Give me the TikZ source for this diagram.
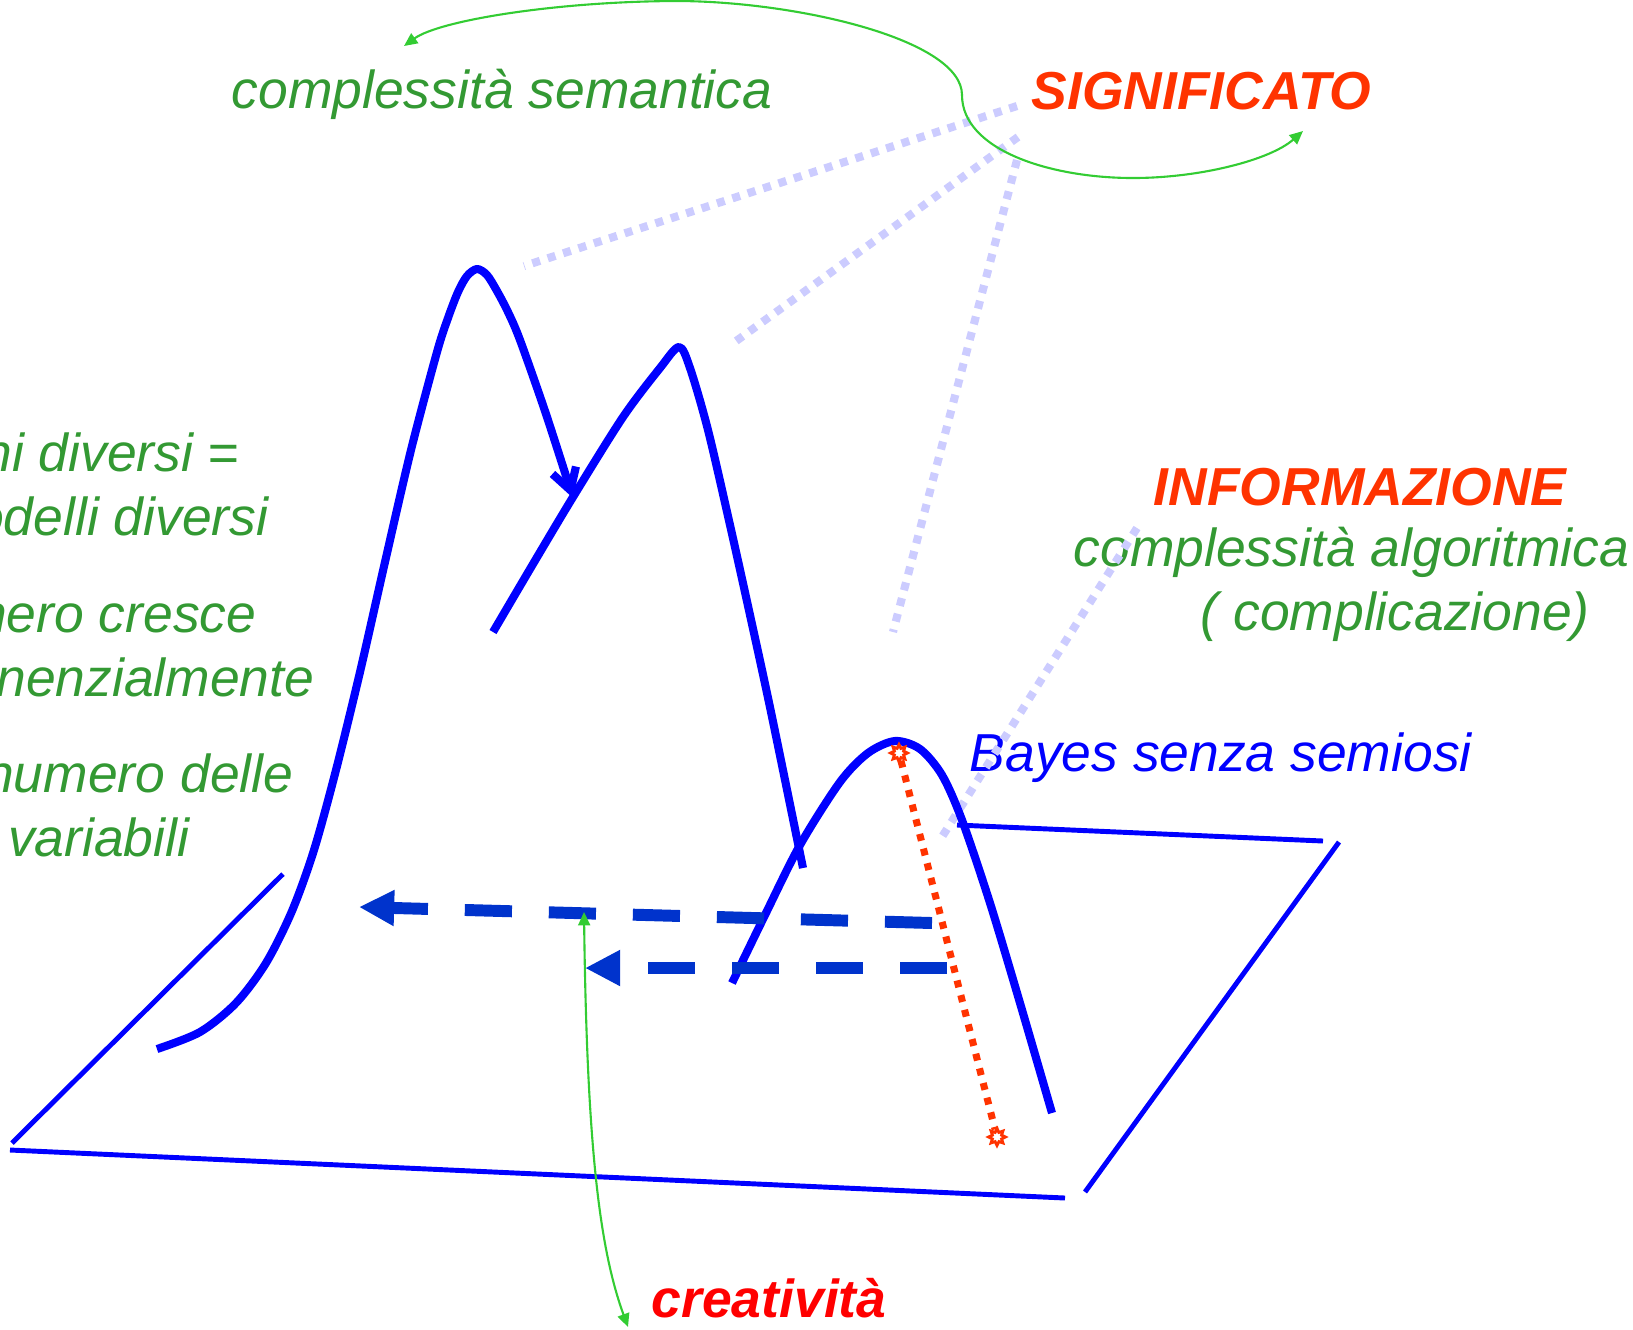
\documentclass[tikz,border=0pt]{standalone}
\usepackage{fontspec}
\setmainfont{Liberation Sans}
\usetikzlibrary{positioning,arrows.meta,shapes.geometric}
\definecolor{curveblue}{HTML}{0000FF}
\definecolor{dashblue}{HTML}{0033CC}
\definecolor{lavender}{HTML}{CCCCFF}
\definecolor{redorange}{HTML}{FF3300}
\definecolor{textgreen}{HTML}{339933}
\definecolor{arcgreen}{HTML}{33CC33}
\tikzset{
    >=Stealth[round],
    txt/.style = {inner sep=0pt, font=\fontsize{15.2}{18}\selectfont\itshape},
    greentxt/.style = {txt, text=textgreen},
    redtxt/.style = {inner sep=0pt, text=redorange, font=\fontsize{15.2}{18}\selectfont\bfseries\itshape},
    plane/.style = {draw=curveblue, line width=1.4pt},
    peak/.style = {draw=curveblue, line width=2.3pt, line join=round},
    ray/.style = {draw=lavender, line width=2.3pt, dash pattern=on 2.3pt off 2.3pt},
    shiftarrow/.style = {draw=dashblue, line width=3.4pt, dash pattern=on 13.4pt off 10.5pt,
        -{Triangle[length=10pt, width=9.6pt]}},
    link/.style = {draw=arcgreen, line width=0.6pt,
        {Triangle[length=3.8pt, width=3.4pt]}-{Triangle[length=3.8pt, width=3.4pt]}},
    dots/.style = {draw=redorange, line width=2pt, dash pattern=on 2pt off 2.3pt},
    gear/.style = {star, star points=8, star point ratio=1.7, draw=redorange, line width=0.8pt,
        fill=white, minimum size=4.8pt, inner sep=0pt},
}
\begin{document}
\begin{tikzpicture}[x=0.01cm, y=-0.01cm]
    \useasboundingbox (0,0) rectangle (1633,1329);

    % labels
    \node (semantica) [greentxt, anchor=base west] at (231,108) {complessità semantica};
    \node (significato) [redtxt, anchor=base west] at (1031,109) {SIGNIFICATO};
    \node (informazione) [redtxt, anchor=base west] at (1153,505) {INFORMAZIONE};
    \node (algoritmica) [greentxt, anchor=base west] at (1073,566) {complessità algoritmica};
    \node (complicazione) [greentxt, anchor=base west] at (1200,630) {( complicazione)};
    \node (bayes) [txt, text=curveblue, anchor=base west] at (969,771) {Bayes senza semiosi};
    \node (creativita) [redtxt, text=red, anchor=base west] at (651,1317) {creatività};

    \node (diversi) [greentxt, anchor=base east] at (240,471) {ni diversi =};
    \node (modelli) [greentxt, anchor=base east] at (269,535) {odelli diversi};
    \node (cresce) [greentxt, anchor=base east] at (257,632) {nero cresce};
    \node (esponenz) [greentxt, anchor=base east] at (315,696) {nenzialmente};
    \node (numero) [greentxt, anchor=base east] at (294,792) {numero delle};
    \node (variabili) [greentxt, anchor=base east] at (190,856) {variabili};

    % rays from SIGNIFICATO and INFORMAZIONE
    \coordinate (rayA-s) at (1017,106);  \coordinate (rayA-e) at (524,266);
    \coordinate (rayB-s) at (1018,137);  \coordinate (rayB-e) at (732,344);
    \coordinate (rayC-s) at (1017,160);  \coordinate (rayC-e) at (893,632);
    \coordinate (rayD-s) at (1137,528);  \coordinate (rayD-e) at (940,840);
    \foreach \r in {A,B,C,D}
        \draw [ray] (ray\r-s) -- (ray\r-e);

    % ground plane
    \coordinate (bl) at (10,1150);   \coordinate (br) at (1065,1198);
    \coordinate (lb) at (12,1143);   \coordinate (lt) at (283,874);
    \coordinate (rb) at (1085,1192); \coordinate (rt) at (1339,842);
    \coordinate (tl) at (957,825);   \coordinate (tr) at (1323,841);
    \draw [plane] (bl) -- (br);
    \draw [plane] (lb) -- (lt);
    \draw [plane] (rb) -- (rt);
    \draw [plane] (tl) -- (tr);

    % peaks
    \draw [peak, -{Straight Barb[length=6pt, width=7pt]}] plot [smooth] coordinates {
        (157,1049) (200,1032) (236,1003) (266,963) (292,911) (314,850)
        (336,770) (360,672) (385,562) (411,450) (437,352) (448,318) (458,292)
        (467,276) (477,269) (487,275) (497,291) (508,312) (520,340) (546,414)
        (573,498)};
    \draw [peak] plot [smooth] coordinates {
        (493,632) (533,564) (573,497) (623,417) (660,368) (679,347) (690,368)
        (708,430) (730,525) (750,615) (771,712) (803,868)};
    \draw [peak] plot [smooth] coordinates {
        (732,983) (765,915) (800,845) (840,782) (868,753) (895,741) (920,749)
        (942,775) (962,820) (990,903) (1020,1003) (1052,1113)};

    % shifts towards the first peak
    \coordinate (far-s) at (932,923);   \coordinate (far-e) at (359,907);
    \coordinate (near-s) at (947,968);  \coordinate (near-e) at (585,968);
    \draw [shiftarrow] (far-s) -- (far-e);
    \draw [shiftarrow] (near-s) -- (near-e);

    % Bayes drop
    \node (rtop) [gear] at (899,753) {};
    \node (rbot) [gear] at (997,1137) {};
    \draw [dots] (rtop) -- (rbot);

    % green links
    \coordinate (cre-up) at (584,912);  \coordinate (cre-down) at (628,1327);
    \draw [link] (cre-up) .. controls (587,1150) and (600,1250) .. (cre-down);
    \coordinate (sem-tip) at (404,46);  \coordinate (sig-tip) at (1303,131);
    \draw [link] (sem-tip) .. controls (440,20) and (560,1) .. (680,1)
        .. controls (800,2) and (962,40) .. (962,95)
        .. controls (962,150) and (1050,178) .. (1133,178)
        .. controls (1200,178) and (1270,160) .. (sig-tip);
\end{tikzpicture}
\end{document}
